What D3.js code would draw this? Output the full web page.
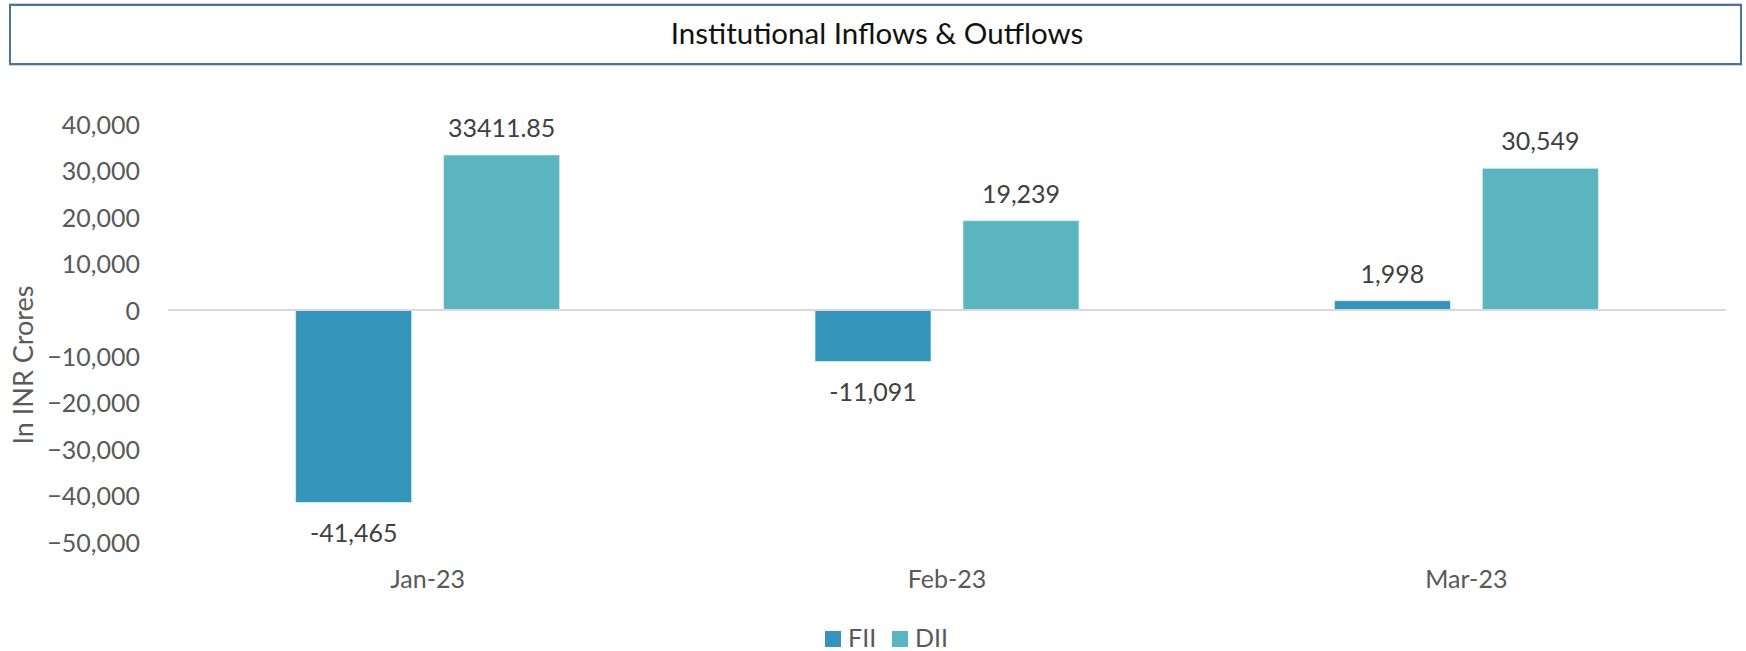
<!DOCTYPE html>
<html>
<head>
<meta charset="utf-8">
<script src="https://cdn.jsdelivr.net/npm/d3@7"></script>
<style>
  html, body { margin: 0; padding: 0; background: #fff; }
  svg { display: block; font-family: Lato, "Open Sans", sans-serif; }
</style>
</head>
<body>
<svg id="chart" width="1746" height="651"></svg>
<script>
// ---- data ----
const categories = ["Jan-23", "Feb-23", "Mar-23"];
const seriesNames = ["FII", "DII"];
const fiiValues = [-41465, -11091, 1998];
const diiValues = [33411.85, 19239, 30549];
const fiiLabels = ["-41,465", "-11,091", "1,998"];
const diiLabels = ["33411.85", "19,239", "30,549"];
const yTicks = [40000, 30000, 20000, 10000, 0, -10000, -20000, -30000, -40000, -50000];
const colors = ["#3594ba", "#5ab5c0"];

// ---- layout ----
const W = 1746, H = 651;
const plot = { left: 168, right: 1726, top: 124.4, bottom: 542 };
const svg = d3.select("#chart");

// title box
svg.append("rect").attr("x", 9.5).attr("y", 3.5).attr("width", 1732).attr("height", 62)
  .attr("fill", "none").attr("stroke", "#c3d1de").attr("stroke-width", 1);
svg.append("rect").attr("x", 10).attr("y", 5).attr("width", 1731).attr("height", 59)
  .attr("fill", "#fff").attr("stroke", "#4d7399").attr("stroke-width", 2);
svg.append("text").attr("x", 877).attr("y", 44).attr("text-anchor", "middle")
  .attr("font-size", 29.5).attr("fill", "#111").text("Institutional Inflows & Outflows");

// scales
const y = d3.scaleLinear().domain([-50000, 40000]).range([plot.bottom, plot.top]);
const x0 = d3.scaleBand().domain(categories).range([plot.left, plot.right])
  .paddingInner(0.4917).paddingOuter(0.4917 / 2);
const x1 = d3.scaleBand().domain(seriesNames).range([0, x0.bandwidth()]).paddingInner(0.216);

// y axis (labels only)
const yAxis = d3.axisLeft(y).tickValues(yTicks).tickSize(0).tickPadding(0)
  .tickFormat(d3.format(","));
const gy = svg.append("g").attr("transform", `translate(140,0)`).call(yAxis);
gy.select(".domain").remove();
gy.selectAll("text").attr("font-size", 25).attr("fill", "#595959")
  .attr("font-family", "Lato, sans-serif").attr("dy", "0.36em");

// y title
svg.append("text").attr("transform", "translate(33,365) rotate(-90)")
  .attr("text-anchor", "middle").attr("font-size", 27).attr("fill", "#595959")
  .text("In INR Crores");

// x axis (labels only)
const xAxis = d3.axisBottom(x0).tickSize(0).tickPadding(0);
const gx = svg.append("g").attr("transform", `translate(0,588)`).call(xAxis);
gx.select(".domain").remove();
gx.selectAll("text").attr("font-size", 25).attr("fill", "#595959")
  .attr("font-family", "Lato, sans-serif").attr("dy", 0);

// bars
const rows = categories.map((c, i) => ({
  cat: c,
  vals: [
    { s: "FII", v: fiiValues[i], label: fiiLabels[i] },
    { s: "DII", v: diiValues[i], label: diiLabels[i] }
  ]
}));
const color = d3.scaleOrdinal().domain(seriesNames).range(colors);

const groups = svg.append("g").selectAll("g").data(rows).join("g")
  .attr("transform", d => `translate(${x0(d.cat)},0)`);

groups.selectAll("rect").data(d => d.vals).join("rect")
  .attr("x", d => x1(d.s))
  .attr("width", x1.bandwidth())
  .attr("y", d => y(Math.max(0, d.v)))
  .attr("height", d => Math.abs(y(d.v) - y(0)))
  .attr("fill", d => color(d.s))
  .attr("stroke", "#d6eef2").attr("stroke-width", 0.8);

// zero line
svg.append("line").attr("x1", plot.left).attr("x2", plot.right)
  .attr("y1", y(0)).attr("y2", y(0))
  .attr("stroke", "#d9d9d9").attr("stroke-width", 2);

// data labels
groups.selectAll("text.lbl").data(d => d.vals).join("text").attr("class", "lbl")
  .attr("x", d => x1(d.s) + x1.bandwidth() / 2)
  .attr("y", d => d.v >= 0 ? y(d.v) - 18 : y(d.v) + 40)
  .attr("text-anchor", "middle").attr("font-size", 25).attr("fill", "#404040")
  .text(d => d.label);

// legend
const legend = svg.append("g");
const legX = [825, 892];
seriesNames.forEach((s, i) => {
  legend.append("rect").attr("x", legX[i]).attr("y", 631).attr("width", 16).attr("height", 16)
    .attr("fill", colors[i]);
  legend.append("text").attr("x", legX[i] + 23).attr("y", 647).attr("font-size", 25)
    .attr("fill", "#595959").text(s);
});
</script>
</body>
</html>
